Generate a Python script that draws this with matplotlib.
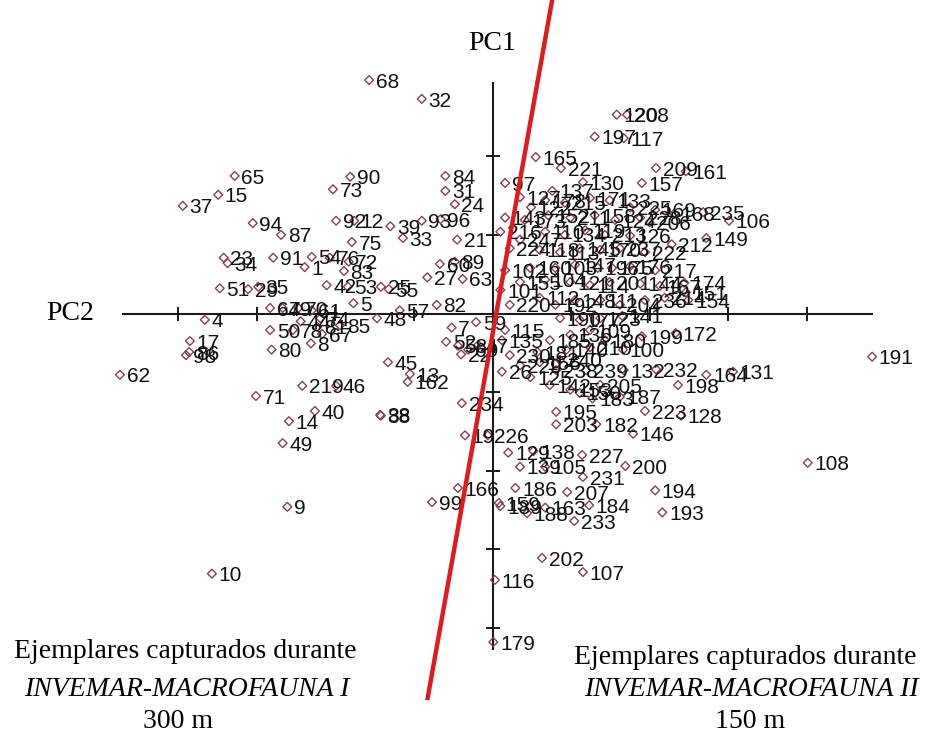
import matplotlib
matplotlib.use("Agg")
import matplotlib.pyplot as plt

# PCA scores (PC2 on x, PC1 on y) of the captured specimens
labels = [
    "68", "32", "65", "15", "37", "94", "90", "73", "84", "31", "24", "87",
    "92", "12", "39", "33", "75", "93", "96", "21", "34", "23", "91", "1",
    "54", "76", "72", "83", "42", "53", "25", "55", "60", "89", "27", "63",
    "5", "57", "82", "48", "7", "59", "52", "58", "69", "22", "47", "45",
    "13", "162", "219", "46", "40", "14", "49", "71", "38", "88", "62", "17",
    "86", "98", "4", "51", "29", "35", "9", "10", "234", "19", "226", "166",
    "99", "80", "50", "78", "67", "8", "64", "79", "70", "61", "74", "44",
    "81", "85",
    "120", "208", "197", "117", "165", "221", "209", "161", "97", "157",
    "137", "130", "122", "168", "235", "106", "149", "212", "206", "174",
    "151", "154", "172", "199", "100", "132", "232", "164", "131", "198",
    "128", "223", "146", "182", "195", "203", "183", "187", "150", "141",
    "115", "181", "140", "210", "125", "26", "238", "239", "227", "129",
    "138", "139", "105", "231", "200", "186", "207", "194", "184", "193",
    "159", "189", "188", "163", "233", "202", "107", "116", "179", "108",
    "191",
    "127", "178", "215", "171", "133", "225", "169", "143", "173", "152",
    "211", "158", "124", "228", "216", "247", "110", "134", "119", "213",
    "126", "224", "118", "113", "145", "170", "237", "222", "102", "160",
    "103", "147", "196", "175", "176", "217", "155", "104", "121", "114",
    "201", "144", "167", "112", "192", "148", "111", "204", "236", "214",
    "190", "177", "123", "109", "136", "185", "180", "101", "220", "135",
    "230", "229", "156", "240", "142", "153", "205",
]

pc2 = [
    -1.57, -0.90, -3.28, -3.49, -3.94, -3.05, -1.81, -2.03, -0.60, -0.60, -0.48, -2.69,
    -1.99, -1.76, -1.30, -1.14, -1.79, -0.90, -0.66, -0.45, -3.37, -3.42, -2.79, -2.39,
    -2.30, -2.07, -1.83, -1.89, -2.11, -1.84, -1.42, -1.32, -0.67, -0.48, -0.83, -0.38,
    -1.77, -1.18, -0.71, -1.47, -0.52, -0.21, -0.59, -0.44, -0.31, -0.40, -0.18, -1.33,
    -1.05, -1.08, -2.42, -1.99, -2.26, -2.59, -2.67, -3.01, -1.43, -1.42, -4.74, -3.85,
    -3.86, -3.90, -3.66, -3.47, -3.11, -2.98, -2.61, -3.57, -0.39, -0.35, -0.06, -0.44,
    -0.77, -2.81, -2.83, -2.54, -2.17, -2.31, -2.83, -2.67, -2.47, -2.30, -2.19, -2.44,
    -2.23, -1.94,
    1.58, 1.71, 1.30, 1.67, 0.55, 0.87, 2.08, 2.46, 0.16, 1.90,
    0.76, 1.15, 0.49, 2.31, 2.68, 3.01, 2.72, 2.28, 2.00, 2.44,
    2.46, 2.49, 2.33, 1.90, 1.66, 1.67, 2.08, 2.72, 3.06, 2.36,
    2.40, 1.94, 1.79, 1.32, 0.81, 0.81, 1.27, 1.62, 1.11, 1.65,
    0.16, 0.57, 0.94, 1.24, 0.48, 0.12, 0.81, 1.19, 1.14, 0.20,
    0.52, 0.35, 0.67, 1.15, 1.69, 0.29, 0.95, 2.07, 1.23, 2.16,
    0.08, 0.10, 0.44, 0.67, 1.04, 0.63, 1.15, 0.03, 0.01, 4.01,
    4.83,
    0.35, 0.67, 0.92, 1.24, 1.49, 1.75, 2.07, 0.16, 0.41, 0.71,
    0.99, 1.30, 1.56, 1.88, 0.10, 0.35, 0.67, 0.92, 1.18, 1.43,
    1.75, 0.22, 0.60, 0.86, 1.11, 1.37, 1.62, 1.94, 0.16, 0.48,
    0.80, 1.05, 1.34, 1.52, 1.75, 2.07, 0.35, 0.67, 0.99, 1.24,
    1.49, 1.88, 2.13, 0.60, 0.80, 1.05, 1.37, 1.62, 1.94, 2.19,
    0.86, 1.11, 1.37, 1.24, 0.99, 0.73, 1.43, 0.10, 0.22, 0.12,
    0.22, 0.35, 0.60, 0.86, 0.73, 0.99, 1.37,
]

pc1 = [
    2.97, 2.73, 1.75, 1.51, 1.37, 1.15, 1.74, 1.58, 1.75, 1.56, 1.39, 1.00,
    1.18, 1.18, 1.11, 0.96, 0.91, 1.18, 1.20, 0.94, 0.64, 0.71, 0.71, 0.59,
    0.72, 0.71, 0.66, 0.54, 0.36, 0.34, 0.34, 0.31, 0.63, 0.66, 0.46, 0.44,
    0.13, 0.04, 0.11, -0.06, -0.18, -0.11, -0.36, -0.41, -0.46, -0.52, -0.40, -0.62,
    -0.77, -0.87, -0.92, -0.92, -1.24, -1.37, -1.65, -1.05, -1.29, -1.30, -0.78, -0.35,
    -0.49, -0.53, -0.08, 0.32, 0.31, 0.34, -2.46, -3.31, -1.14, -1.55, -1.55, -2.22,
    -2.40, -0.46, -0.21, -0.21, -0.26, -0.38, 0.07, 0.07, 0.07, 0.04, -0.06, -0.10,
    -0.17, -0.15,
    2.53, 2.53, 2.25, 2.23, 1.99, 1.85, 1.85, 1.81, 1.66, 1.66,
    1.56, 1.67, 1.35, 1.27, 1.29, 1.18, 0.96, 0.88, 1.16, 0.39,
    0.27, 0.17, -0.25, -0.29, -0.46, -0.72, -0.71, -0.78, -0.74, -0.91,
    -1.30, -1.24, -1.53, -1.41, -1.25, -1.41, -1.08, -1.06, -1.01, -0.03,
    -0.21, -0.49, -0.46, -0.43, -0.81, -0.74, -0.72, -0.72, -1.80, -1.77,
    -1.75, -1.95, -1.95, -2.08, -1.94, -2.22, -2.27, -2.25, -2.44, -2.53,
    -2.41, -2.45, -2.54, -2.47, -2.64, -3.11, -3.29, -3.39, -4.18, -1.90,
    -0.55,
    1.48, 1.44, 1.41, 1.47, 1.44, 1.35, 1.32, 1.22, 1.19, 1.25,
    1.22, 1.25, 1.19, 1.22, 1.04, 0.94, 1.04, 1.00, 1.06, 1.00,
    0.99, 0.83, 0.81, 0.78, 0.83, 0.81, 0.83, 0.78, 0.55, 0.58,
    0.58, 0.62, 0.58, 0.58, 0.60, 0.55, 0.40, 0.43, 0.40, 0.36,
    0.40, 0.38, 0.35, 0.20, 0.11, 0.17, 0.17, 0.11, 0.17, 0.20,
    -0.06, -0.08, -0.06, -0.21, -0.27, -0.34, -0.34, 0.30, 0.11, -0.34,
    -0.53, -0.66, -0.62, -0.59, -0.91, -0.97, -0.91,
]

# Dividing line between the two cruises (PC2, PC1 end points)
split_x = [0.77, -0.83]
split_y = [4.05, -4.92]

W, H, DPI = 935, 733, 100
UNIT = 78.6          # pixels per score unit
ORIGIN = (492.5, 313.5)

fig = plt.figure(figsize=(W / DPI, H / DPI), dpi=DPI)
ax = fig.add_axes([0, 0, 1, 1])
ax.set_xlim(-ORIGIN[0] / UNIT, (W - ORIGIN[0]) / UNIT)
ax.set_ylim(-(H - ORIGIN[1]) / UNIT, ORIGIN[1] / UNIT)
ax.patch.set_alpha(0)

for side in ("top", "right"):
    ax.spines[side].set_visible(False)
for side in ("left", "bottom"):
    ax.spines[side].set_position(("data", 0))
    ax.spines[side].set_linewidth(1.5)
    ax.spines[side].set_color("#1a1a1a")
ax.spines["bottom"].set_bounds(-4.70, 4.83)
ax.spines["left"].set_bounds(-4.27, 2.93)
ax.set_xticks([-4, -3, -2, -1, 1, 2, 3, 4])
ax.set_yticks([-4, -3, -2, -1, 1, 2])
ax.tick_params(direction="inout", length=10, width=1.4, color="#1a1a1a",
               labelbottom=False, labelleft=False)

ax.scatter(pc2, pc1, marker="D", s=20, facecolors="none",
           edgecolors="#84405a", linewidths=1.0, zorder=3)
for lbl, x, y in zip(labels, pc2, pc1):
    ax.annotate(lbl, (x, y), xytext=(4.8, -1.5), textcoords="offset points",
                ha="left", va="center", fontsize=15,
                family="Liberation Sans", color="#111111", zorder=4)

ax.plot(split_x, split_y, color="#e01b1f", lw=3.2, zorder=5,
        solid_capstyle="butt")

serif = dict(family="Liberation Serif", fontsize=20, color="black")
fig.text(492 / W, 1 - 43 / H, "PC1", ha="center", va="center", **serif)
fig.text(70 / W, 1 - 314 / H, "PC2", ha="center", va="center", **serif)

fig.text(185 / W, 1 - 652 / H, "Ejemplares capturados durante",
         ha="center", va="center", **serif)
fig.text(187 / W, 1 - 690 / H, "INVEMAR-MACROFAUNA I", ha="center",
         va="center", style="italic", **serif)
fig.text(178 / W, 1 - 721 / H, "300 m", ha="center", va="center", **serif)

fig.text(745 / W, 1 - 657 / H, "Ejemplares capturados durante",
         ha="center", va="center", **serif)
fig.text(751 / W, 1 - 690 / H, "INVEMAR-MACROFAUNA II", ha="center",
         va="center", style="italic", **serif)
fig.text(750 / W, 1 - 721 / H, "150 m", ha="center", va="center", **serif)

fig.savefig("out.png", dpi=DPI, facecolor="white")
